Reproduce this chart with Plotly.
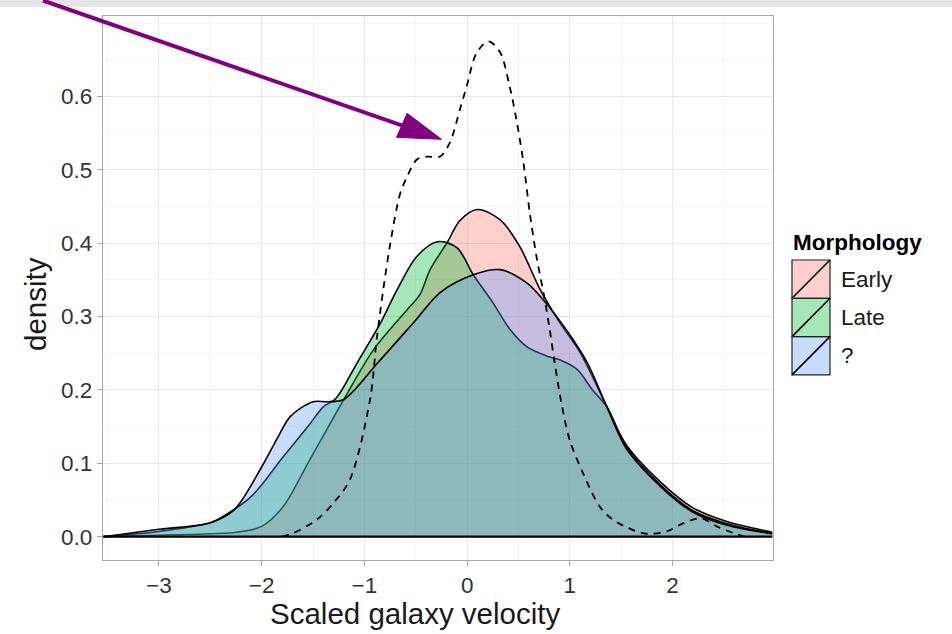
import plotly.graph_objects as go

# ---------------- data ----------------
series_names = ["Early", "Late", "?"]
series_colors = ["248,118,109", "0,186,56", "97,156,255"]

early_x = [-3.54, -3.0, -2.5, -2.25, -2.0, -1.79, -1.55, -1.2, -0.91, -0.58, -0.46,
           -0.36, -0.19, -0.07, 0.1, 0.32, 0.51, 0.71, 0.9, 1.1, 1.36, 1.55, 1.87,
           2.19, 2.52, 2.97]
early_y = [0.0, 0.002, 0.004, 0.006, 0.014, 0.041, 0.100, 0.187, 0.255, 0.310, 0.330,
           0.364, 0.402, 0.431, 0.446, 0.432, 0.396, 0.337, 0.292, 0.251, 0.177, 0.125,
           0.076, 0.040, 0.021, 0.006]

late_x = [-3.54, -3.0, -2.5, -2.43, -2.1, -1.79, -1.55, -1.4, -1.28, -1.07, -0.84,
          -0.68, -0.49, -0.29, -0.1, 0.06, 0.25, 0.42, 0.58, 0.78, 0.9, 1.07, 1.22,
          1.36, 1.55, 1.87, 2.19, 2.52, 2.97]
late_y = [0.0, 0.007, 0.019, 0.023, 0.055, 0.109, 0.150, 0.177, 0.188, 0.237, 0.292,
          0.337, 0.382, 0.402, 0.394, 0.357, 0.319, 0.282, 0.259, 0.246, 0.241, 0.228,
          0.200, 0.177, 0.122, 0.072, 0.036, 0.018, 0.004]

unknown_x = [-3.54, -3.0, -2.5, -2.27, -2.0, -1.84, -1.72, -1.5, -1.36, -1.2, -0.87,
             -0.52, -0.26, 0.06, 0.32, 0.58, 0.74, 0.97, 1.17, 1.36, 1.55, 1.87, 2.19,
             2.52, 2.97]
unknown_y = [0.0, 0.010, 0.019, 0.036, 0.095, 0.136, 0.164, 0.184, 0.184, 0.187, 0.237,
             0.292, 0.333, 0.357, 0.364, 0.346, 0.323, 0.281, 0.237, 0.177, 0.120, 0.070,
             0.034, 0.016, 0.004]

all_x = [-1.8, -1.69, -1.465, -1.3, -1.14, -0.946, -0.881, -0.817, -0.752, -0.655,
         -0.587, -0.489, -0.392, -0.266, -0.168, -0.071, -0.006, 0.091, 0.205, 0.318,
         0.415, 0.48, 0.545, 0.61, 0.675, 0.756, 0.804, 0.853, 0.918, 1.0, 1.13, 1.29,
         1.42, 1.616, 1.745, 1.94, 2.1, 2.28, 2.43, 2.59, 2.7]
all_y = [0.0, 0.005, 0.023, 0.046, 0.078, 0.186, 0.268, 0.336, 0.396, 0.466,
         0.490, 0.514, 0.518, 0.518, 0.537, 0.582, 0.613, 0.659, 0.675, 0.661,
         0.613, 0.568, 0.513, 0.441, 0.382, 0.323, 0.282, 0.236, 0.182, 0.131, 0.086,
         0.041, 0.023, 0.009, 0.004, 0.007, 0.018, 0.025, 0.014, 0.005, 0.0]

x_tick_vals = [-3, -2, -1, 0, 1, 2]
x_tick_text = ["\u22123", "\u22122", "\u22121", "0", "1", "2"]
y_tick_vals = [0.0, 0.1, 0.2, 0.3, 0.4, 0.5, 0.6]
y_tick_text = ["0.0", "0.1", "0.2", "0.3", "0.4", "0.5", "0.6"]

x_title = "Scaled galaxy velocity"
y_title = "density"
legend_title = "Morphology"

# ---------------- layout geometry (pixels) ----------------
W, H = 952, 634
PL, PR, PT, PB = 103, 773, 16, 560
X_RANGE = [-3.544, 2.977]
Y_RANGE = [-0.0318, 0.7097]
FONT = "Liberation Sans, Arial, Helvetica, sans-serif"
ALPHA = 0.35
TICK_SIZE = 22.5
LEG_SIZE = 22.5
TITLE_SIZE = 29.5


def px_x(p):
    return (p - PL) / (PR - PL)


def px_y(p):
    return (PB - p) / (PB - PT)


fig = go.Figure()

groups = [(early_x, early_y), (late_x, late_y), (unknown_x, unknown_y)]
for name, col, (xs, ys) in zip(series_names, series_colors, groups):
    fig.add_trace(go.Scatter(
        x=xs, y=ys, name=name, mode="lines",
        line=dict(color="black", width=1.6, shape="spline", smoothing=0.9),
        fill="tozeroy", fillcolor=f"rgba({col},{ALPHA})",
        showlegend=False, hoverinfo="skip"))

# baseline of the density polygons
fig.add_trace(go.Scatter(
    x=[min(early_x + late_x + unknown_x), max(early_x + late_x + unknown_x)],
    y=[0, 0], mode="lines", line=dict(color="black", width=2.4),
    showlegend=False, hoverinfo="skip"))

# dashed overall density
fig.add_trace(go.Scatter(
    x=all_x, y=all_y, mode="lines",
    line=dict(color="black", width=1.8, dash="7px,6px", shape="spline", smoothing=0.9),
    showlegend=False, hoverinfo="skip"))

shapes = []
annotations = []

# grey strip along the top of the image
shapes.append(dict(type="rect", xref="paper", yref="paper",
                   x0=px_x(0), x1=px_x(W), y0=px_y(7), y1=px_y(0),
                   fillcolor="#E5E5E5", line=dict(width=0), layer="below"))

# manual legend
annotations.append(dict(text=f"<b>{legend_title}</b>", xref="paper", yref="paper",
                        x=px_x(791), y=px_y(243), xanchor="left", yanchor="middle",
                        showarrow=False, font=dict(family=FONT, size=LEG_SIZE, color="black")))
key_l, key_r, key_top, key_h = 792, 830, 260, 38.3
for i, (name, col) in enumerate(zip(series_names, series_colors)):
    t = key_top + i * key_h
    b = t + key_h
    shapes.append(dict(type="rect", xref="paper", yref="paper",
                       x0=px_x(key_l), x1=px_x(key_r), y0=px_y(b), y1=px_y(t),
                       fillcolor=f"rgba({col},{ALPHA})",
                       line=dict(color="#222222", width=1.2)))
    shapes.append(dict(type="line", xref="paper", yref="paper",
                       x0=px_x(key_l), x1=px_x(key_r), y0=px_y(b), y1=px_y(t),
                       line=dict(color="black", width=1.6)))
    annotations.append(dict(text=name, xref="paper", yref="paper",
                            x=px_x(839), y=px_y((t + b) / 2), xanchor="left",
                            yanchor="middle", showarrow=False,
                            font=dict(family=FONT, size=LEG_SIZE, color="#1a1a1a")))

# axis titles
annotations.append(dict(text=x_title, xref="paper", yref="paper",
                        x=px_x(415), y=px_y(613), xanchor="center", yanchor="middle",
                        showarrow=False, font=dict(family=FONT, size=TITLE_SIZE, color="#1a1a1a")))
annotations.append(dict(text=y_title, xref="paper", yref="paper",
                        x=px_x(35), y=px_y(304), xanchor="center", yanchor="middle",
                        textangle=-90, showarrow=False,
                        font=dict(family=FONT, size=TITLE_SIZE, color="#1a1a1a")))

# purple arrow
tip_x, tip_y = -0.249, 0.5416
annotations.append(dict(text="", x=tip_x, y=tip_y, xref="x", yref="y",
                        ax=-400, ay=-143, axref="pixel", ayref="pixel",
                        showarrow=True, arrowhead=0, arrowwidth=4,
                        arrowcolor="#800080", standoff=14))
shapes.append(dict(type="path", xref="x", yref="y", xsizemode="pixel",
                   ysizemode="pixel", xanchor=tip_x, yanchor=tip_y,
                   path="M0,0 L-45,2 L-34.4,26 Z", fillcolor="#800080",
                   line=dict(color="#800080", width=1)))

axis_common = dict(
    showgrid=True, gridcolor="#E8E8E8", gridwidth=1,
    zeroline=False, showline=True, mirror=True, linecolor="#A8A8A8", linewidth=1.2,
    ticks="outside", ticklen=5, tickcolor="#A8A8A8", tickwidth=1.2,
    tickfont=dict(family=FONT, size=TICK_SIZE, color="#333333"))

fig.update_layout(
    width=W, height=H,
    margin=dict(l=PL, r=W - PR, t=PT, b=H - PB, pad=0),
    paper_bgcolor="white", plot_bgcolor="white",
    showlegend=False,
    font=dict(family=FONT),
    shapes=shapes, annotations=annotations,
    xaxis=dict(range=X_RANGE, tickvals=x_tick_vals, ticktext=x_tick_text,
               minor=dict(dtick=0.5, tick0=0, showgrid=True, gridcolor="#F4F4F4", gridwidth=1),
               **axis_common),
    yaxis=dict(range=Y_RANGE, tickvals=y_tick_vals, ticktext=y_tick_text,
               minor=dict(dtick=0.05, tick0=0, showgrid=True, gridcolor="#F4F4F4", gridwidth=1),
               **axis_common),
)

fig.write_html("out.html")
